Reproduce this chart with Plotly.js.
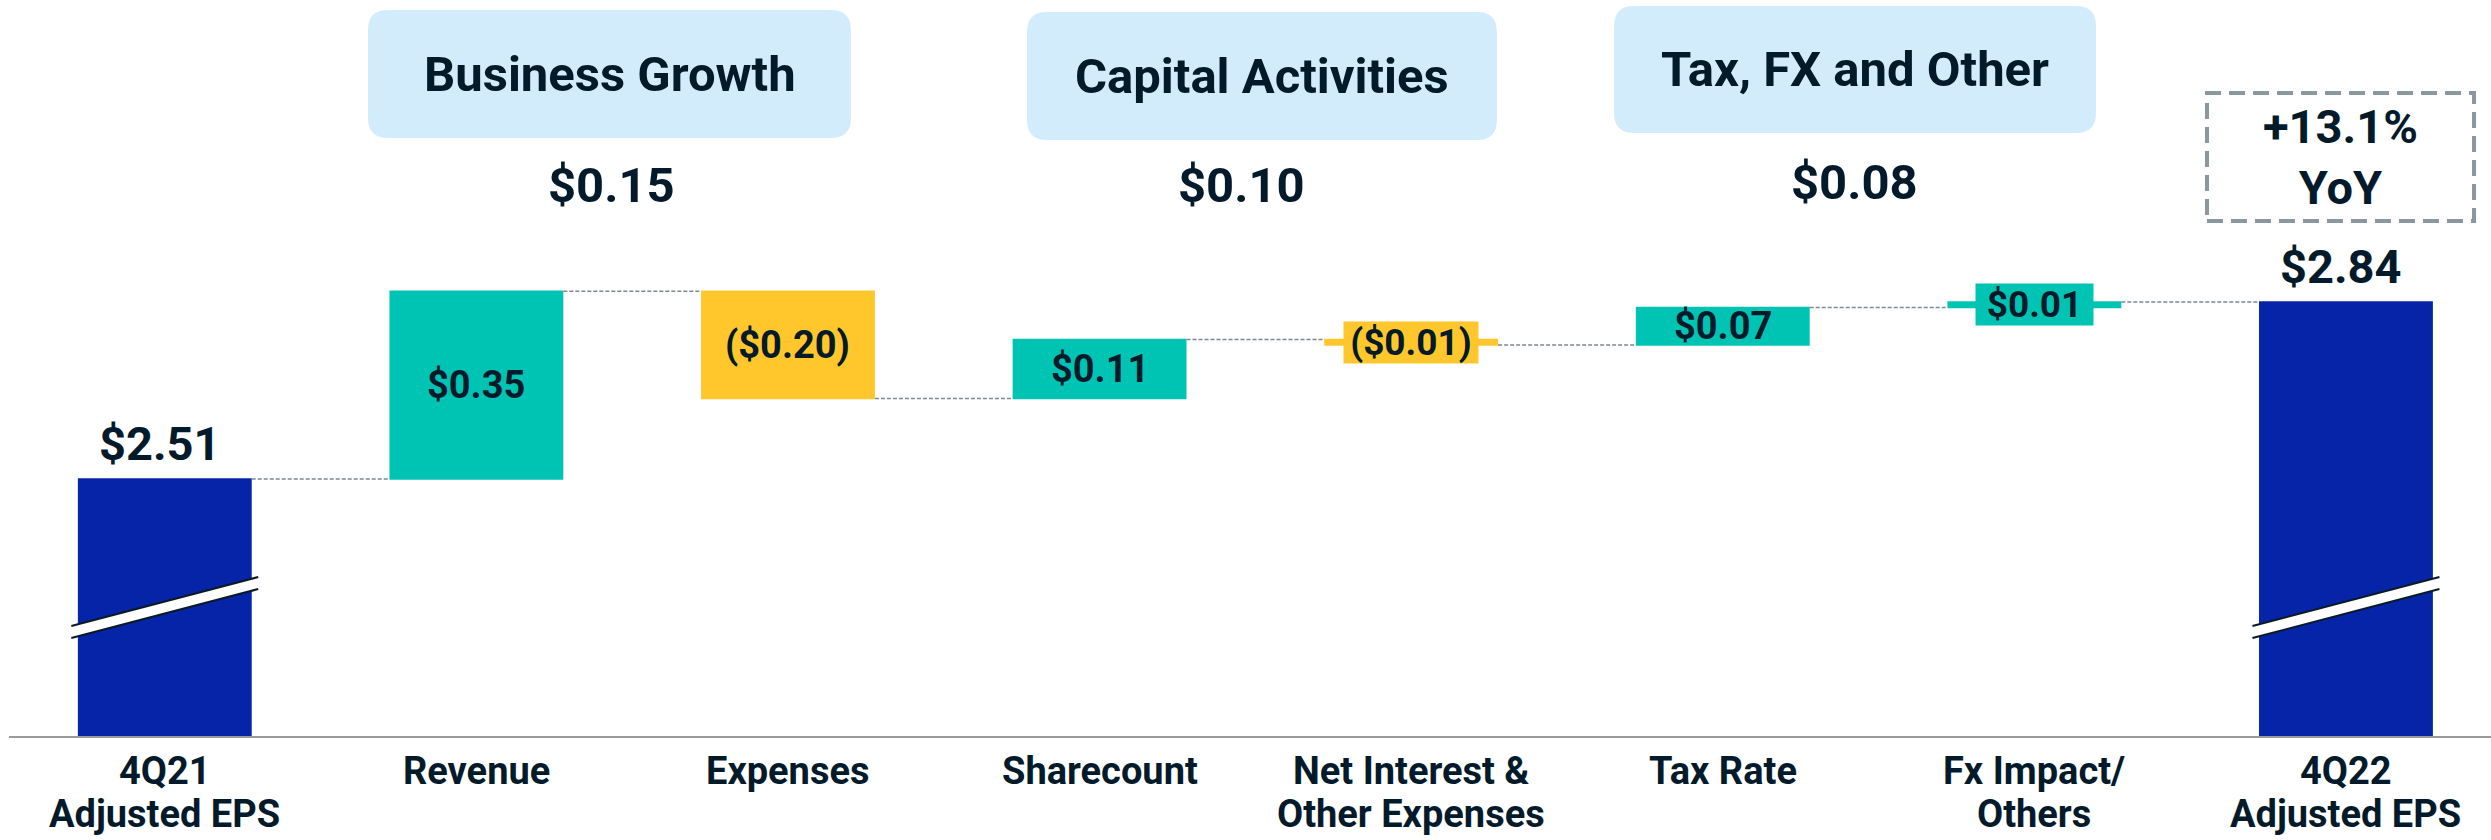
<!DOCTYPE html>
<html><head><meta charset="utf-8">
<script src="https://cdn.plot.ly/plotly-3.0.1.min.js"></script>
<style>html,body{margin:0;padding:0;background:#fff}#chart{width:2491px;height:840px}</style>
</head><body><div id="chart"></div>
<script>
// ---- data ----
const categories = ['4Q21 Adjusted EPS','Revenue','Expenses','Sharecount','Net Interest & Other Expenses','Tax Rate','Fx Impact/ Others','4Q22 Adjusted EPS'];
const tickLabels = ['4Q21<br>Adjusted EPS','Revenue','Expenses','Sharecount','Net Interest &<br>Other Expenses','Tax Rate','Fx Impact/<br>Others','4Q22<br>Adjusted EPS'];
const measures = ['absolute','relative','relative','relative','relative','relative','relative','total'];
const values = [2.51, 0.35, -0.20, 0.11, -0.01, 0.07, 0.01, 0];
const barLabels = ['$2.51','$0.35','($0.20)','$0.11','($0.01)','$0.07','$0.01','$2.84'];
const groupNames = ['Business Growth','Capital Activities','Tax, FX and Other'];
const groupTotals = ['$0.15','$0.10','$0.08'];
const yoyText = '+13.1%<br>YoY';

// ---- style ----
const DARK = '#031A2B';
const TEAL = '#00C4B3';
const YELLOW = '#FFC72C';
const NAVY = '#0624A8';
const BOXBLUE = '#D3ECFC';
const FONT = 'Roboto, Arial, sans-serif';

// group box layout (category-index units for x, paper for y)
const groupBoxes = [
  {x0:0.652, x1:2.202, yt:0.9864, yb:0.8125, tx:1.429, ty:0.8988, vx:1.435, vy:0.7473},
  {x0:2.767, x1:4.275, yt:0.9837, yb:0.8098, tx:3.521, ty:0.8961, vx:3.457, vy:0.7473},
  {x0:4.651, x1:6.198, yt:0.9918, yb:0.8193, tx:5.424, ty:0.9056, vx:5.424, vy:0.7520}
];
const yoyBox = {x0:6.554, x1:7.411, yt:0.8736, yb:0.6997, tx:6.982, ty:0.7867};

const PXX = 311.6, PXY = 736; // px per category, plot height px
function roundRect(b, r){
  const rx = r/PXX, ry = r/PXY;
  return `M ${b.x0+rx} ${b.yt} L ${b.x1-rx} ${b.yt} Q ${b.x1} ${b.yt} ${b.x1} ${b.yt-ry} `+
         `L ${b.x1} ${b.yb+ry} Q ${b.x1} ${b.yb} ${b.x1-rx} ${b.yb} `+
         `L ${b.x0+rx} ${b.yb} Q ${b.x0} ${b.yb} ${b.x0} ${b.yb+ry} `+
         `L ${b.x0} ${b.yt-ry} Q ${b.x0} ${b.yt} ${b.x0+rx} ${b.yt} Z`;
}

const trace = {
  type:'waterfall',
  x: categories,
  y: values,
  measure: measures,
  textinfo:'none',
  hoverinfo:'skip',
  increasing:{marker:{color:TEAL}},
  decreasing:{marker:{color:YELLOW}},
  totals:{marker:{color:NAVY}},
  connector:{mode:'between', line:{color:'#7C8893', width:1.5, dash:'4px,2px'}}
};

// compute levels
const annotations = [];
let run = 0;
for(let i=0;i<categories.length;i++){
  let start, end;
  if(measures[i]==='absolute'){ start=0; end=values[i]; }
  else if(measures[i]==='total'){ start=0; end=run; }
  else { start=run; end=run+values[i]; }
  run = end;
  if(measures[i]!=='relative'){
    annotations.push({x:i, y:end, xref:'x', yref:'y', text:barLabels[i], showarrow:false,
      yanchor:'middle', yshift:36, xshift:-5,
      font:{family:FONT, size:47, color:DARK, weight:'bold'}});
  } else if(Math.abs(values[i])>=0.05){
    annotations.push({x:i, y:(start+end)/2, xref:'x', yref:'y', text:barLabels[i], showarrow:false,
      yanchor:'middle', font:{family:FONT, size:38, color:DARK, weight:'bold'}});
  } else {
    const neg = values[i]<0;
    annotations.push({x:i, y:(start+end)/2, xref:'x', yref:'y', text:barLabels[i], showarrow:false,
      yanchor:'middle', bgcolor: neg?YELLOW:TEAL, width: neg?134:117, height:41, borderpad:0,
      font:{family:FONT, size:37, color:DARK, weight:'bold'}});
  }
}

// category labels under the axis (tight line spacing like the reference)
tickLabels.forEach((lab,i)=>{
  lab.split('<br>').forEach((line,k)=>{
    annotations.push({x:i, y:0, xref:'x', yref:'paper', text:line, showarrow:false,
      yanchor:'middle', yshift:-35-43*k,
      font:{family:FONT, size:38, color:DARK, weight:'bold'}});
  });
});

const shapes = [];
groupBoxes.forEach((b,k)=>{
  shapes.push({type:'path', xref:'x', yref:'paper', path:roundRect(b,20), fillcolor:BOXBLUE, line:{width:0}, layer:'below'});
  annotations.push({x:b.tx, y:b.ty, xref:'x', yref:'paper', text:groupNames[k], showarrow:false, yanchor:'middle',
    font:{family:FONT, size:49, color:DARK, weight:'bold'}});
  annotations.push({x:b.vx, y:b.vy, xref:'x', yref:'paper', text:groupTotals[k], showarrow:false, yanchor:'middle',
    font:{family:FONT, size:49, color:DARK, weight:'bold'}});
});
shapes.push({type:'rect', xref:'x', yref:'paper', x0:yoyBox.x0, x1:yoyBox.x1, y0:yoyBox.yb, y1:yoyBox.yt,
  line:{color:'#8A96A0', width:4, dash:'16px,8px'}, fillcolor:'rgba(0,0,0,0)'});
annotations.push({x:yoyBox.tx, y:yoyBox.ty, xref:'x', yref:'paper', text:yoyText, showarrow:false, yanchor:'middle',
  font:{family:FONT, size:47, color:DARK, weight:'bold'}});

// axis break marks on the two total bars
[0, categories.length-1].forEach(i=>{
  const xa=i-0.3, xb=i+0.3, yl=0.1495, yr=0.2160, th=0.0163;
  shapes.push({type:'path', xref:'x', yref:'paper',
    path:`M ${xa} ${yl} L ${xb} ${yr} L ${xb} ${yr-th} L ${xa} ${yl-th} Z`, fillcolor:'#FFFFFF', line:{width:0}});
  shapes.push({type:'line', xref:'x', yref:'paper', x0:xa, y0:yl, x1:xb, y1:yr, line:{color:'#0B1A28', width:2}});
  shapes.push({type:'line', xref:'x', yref:'paper', x0:xa, y0:yl-th, x1:xb, y1:yr-th, line:{color:'#0B1A28', width:2}});
});

const layout = {
  width:2491, height:840,
  margin:{l:9, r:0, t:0, b:104, pad:0},
  paper_bgcolor:'#FFFFFF', plot_bgcolor:'#FFFFFF',
  showlegend:false,
  waterfallgap:0.442,
  xaxis:{type:'category', range:[-0.5, 7.4655], showline:true, linecolor:'#9A9A9A', linewidth:2,
    showgrid:false, zeroline:false, ticks:'', showticklabels:false, fixedrange:true},
  yaxis:{range:[2.031, 3.403], visible:false, fixedrange:true},
  shapes:shapes,
  annotations:annotations,
  font:{family:FONT, color:DARK}
};

Plotly.newPlot('chart', [trace], layout, {staticPlot:true, displayModeBar:false});
</script></body></html>
